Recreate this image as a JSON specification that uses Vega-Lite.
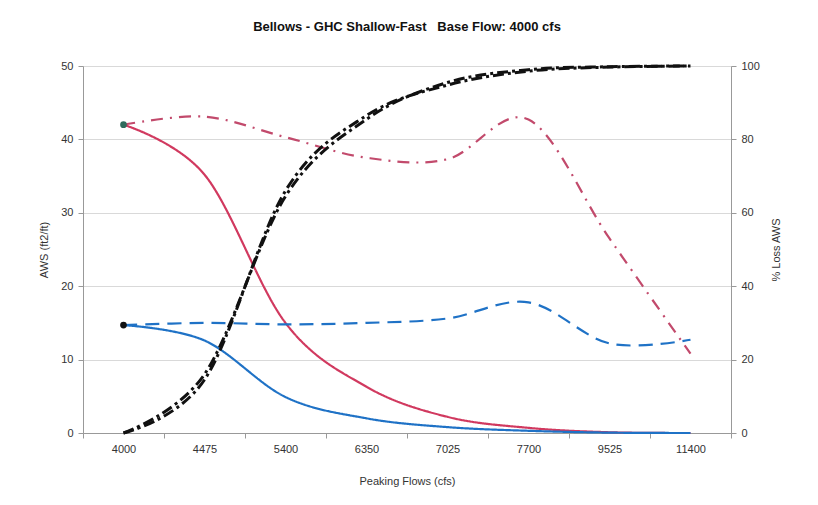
{
  "$schema": "https://vega.github.io/schema/vega-lite/v6.json",
  "width": 648,
  "height": 367,
  "autosize": {"type": "none"},
  "padding": {"left": 83, "top": 66, "right": 87, "bottom": 72},
  "background": "white",
  "title": {"text": "Bellows - GHC Shallow-Fast\u00a0\u00a0 Base Flow: 4000 cfs", "font": "Liberation Sans", "fontSize": 13, "fontWeight": "bold", "color": "#111", "offset": 26, "anchor": "middle"},
  "config": {
    "view": {"stroke": null},
    "axis": {"labelFont": "Liberation Sans", "titleFont": "Liberation Sans", "labelFontSize": 11, "titleFontSize": 11, "titleFontWeight": "normal", "labelColor": "#333", "titleColor": "#333", "domainColor": "#999", "tickColor": "#999", "tickSize": 5, "labelPadding": 5}
  },
  "datasets": {
    "aws": [
      {"flow": 4000, "series": "Red", "value": 42},
      {"flow": 4475, "series": "Red", "value": 35.2},
      {"flow": 5400, "series": "Red", "value": 15},
      {"flow": 6350, "series": "Red", "value": 6.3},
      {"flow": 7025, "series": "Red", "value": 2.2},
      {"flow": 7700, "series": "Red", "value": 0.7},
      {"flow": 9525, "series": "Red", "value": 0.1},
      {"flow": 11400, "series": "Red", "value": 0},
      {"flow": 4000, "series": "Blue", "value": 14.7},
      {"flow": 4475, "series": "Blue", "value": 12.6},
      {"flow": 5400, "series": "Blue", "value": 4.9},
      {"flow": 6350, "series": "Blue", "value": 2.0},
      {"flow": 7025, "series": "Blue", "value": 0.8},
      {"flow": 7700, "series": "Blue", "value": 0.3},
      {"flow": 9525, "series": "Blue", "value": 0.05},
      {"flow": 11400, "series": "Blue", "value": 0},
      {"flow": 4000, "series": "RedBase", "value": 42},
      {"flow": 4475, "series": "RedBase", "value": 43.1},
      {"flow": 5400, "series": "RedBase", "value": 40.3},
      {"flow": 6350, "series": "RedBase", "value": 37.5},
      {"flow": 7025, "series": "RedBase", "value": 37.3},
      {"flow": 7700, "series": "RedBase", "value": 42.7},
      {"flow": 9525, "series": "RedBase", "value": 26.5},
      {"flow": 11400, "series": "RedBase", "value": 10.8},
      {"flow": 4000, "series": "BlueBase", "value": 14.7},
      {"flow": 4475, "series": "BlueBase", "value": 15.0},
      {"flow": 5400, "series": "BlueBase", "value": 14.8},
      {"flow": 6350, "series": "BlueBase", "value": 15.0},
      {"flow": 7025, "series": "BlueBase", "value": 15.6},
      {"flow": 7700, "series": "BlueBase", "value": 17.8},
      {"flow": 9525, "series": "BlueBase", "value": 12.2},
      {"flow": 11400, "series": "BlueBase", "value": 12.7}
    ],
    "pts": [
      {"flow": 4000, "series": "RedStart", "value": 42},
      {"flow": 4000, "series": "BlueStart", "value": 14.7}
    ],
    "loss": [
      {"flow": 4000, "series": "LossRed", "pct": 0},
      {"flow": 4475, "series": "LossRed", "pct": 16},
      {"flow": 5400, "series": "LossRed", "pct": 64.5},
      {"flow": 6350, "series": "LossRed", "pct": 85.5},
      {"flow": 7025, "series": "LossRed", "pct": 95.5},
      {"flow": 7700, "series": "LossRed", "pct": 99},
      {"flow": 9525, "series": "LossRed", "pct": 99.8},
      {"flow": 11400, "series": "LossRed", "pct": 100},
      {"flow": 4000, "series": "LossBlue", "pct": 0},
      {"flow": 4475, "series": "LossBlue", "pct": 14.5},
      {"flow": 5400, "series": "LossBlue", "pct": 66},
      {"flow": 6350, "series": "LossBlue", "pct": 86.5},
      {"flow": 7025, "series": "LossBlue", "pct": 94.8},
      {"flow": 7700, "series": "LossBlue", "pct": 98.6},
      {"flow": 9525, "series": "LossBlue", "pct": 99.7},
      {"flow": 11400, "series": "LossBlue", "pct": 100}
    ]
  },
  "layer": [
    {
      "layer": [
        {
          "data": {"name": "aws"},
          "mark": {"type": "line", "interpolate": "cardinal"},
          "encoding": {
            "x": {"field": "flow", "type": "ordinal", "bandPosition": 0.5, "scale": {"type": "band", "paddingInner": 0, "paddingOuter": 0}, "axis": {"title": "Peaking Flows (cfs)", "labelAngle": 0, "tickBand": "extent", "grid": false, "titlePadding": 21}},
            "y": {"field": "value", "type": "quantitative", "scale": {"domain": [0, 50]}, "axis": {"title": "AWS (ft2/ft)", "values": [0, 10, 20, 30, 40, 50], "grid": true, "gridColor": "#d9d9d9", "titlePadding": 11}},
            "color": {"field": "series", "type": "nominal", "legend": null, "scale": {"domain": ["Red", "Blue", "RedBase", "BlueBase"], "range": ["#d1395f", "#1f72c6", "#c24a6c", "#1f72c6"]}},
            "strokeDash": {"field": "series", "type": "nominal", "legend": null, "scale": {"domain": ["Red", "Blue", "RedBase", "BlueBase"], "range": [[1, 0], [1, 0], [12, 7, 2, 7], [14, 8]]}},
            "strokeWidth": {"field": "series", "type": "nominal", "legend": null, "scale": {"domain": ["Red", "Blue", "RedBase", "BlueBase"], "range": [2.2, 2.2, 2.5, 2.8]}}
          }
        },
        {
          "data": {"name": "pts"},
          "mark": {"type": "point", "filled": true, "size": 45, "opacity": 1},
          "encoding": {
            "x": {"field": "flow", "type": "ordinal", "bandPosition": 0.5, "scale": {"type": "band", "paddingInner": 0, "paddingOuter": 0}, "axis": {"title": "Peaking Flows (cfs)", "labelAngle": 0, "tickBand": "extent", "grid": false, "titlePadding": 21}},
            "y": {"field": "value", "type": "quantitative", "scale": {"domain": [0, 50]}, "axis": {"title": "AWS (ft2/ft)", "values": [0, 10, 20, 30, 40, 50], "grid": true, "gridColor": "#d9d9d9", "titlePadding": 11}},
            "fill": {"field": "series", "type": "nominal", "legend": null, "scale": {"domain": ["RedStart", "BlueStart"], "range": ["#2f6b5c", "#111111"]}}
          }
        }
      ]
    },
    {
      "data": {"name": "loss"},
      "mark": {"type": "line", "interpolate": "cardinal", "color": "#111111", "strokeWidth": 3, "strokeDash": [11, 4, 3, 4]},
      "encoding": {
        "x": {"field": "flow", "type": "ordinal", "bandPosition": 0.5, "scale": {"type": "band", "paddingInner": 0, "paddingOuter": 0}, "axis": {"title": "Peaking Flows (cfs)", "labelAngle": 0, "tickBand": "extent", "grid": false, "titlePadding": 21}},
        "y": {"field": "pct", "type": "quantitative", "scale": {"domain": [0, 100]}, "axis": {"title": "% Loss AWS", "orient": "right", "values": [0, 20, 40, 60, 80, 100], "grid": false, "titleAngle": 270, "titlePadding": 22}},
        "detail": {"field": "series", "type": "nominal"}
      }
    }
  ],
  "resolve": {"scale": {"y": "independent"}}
}
